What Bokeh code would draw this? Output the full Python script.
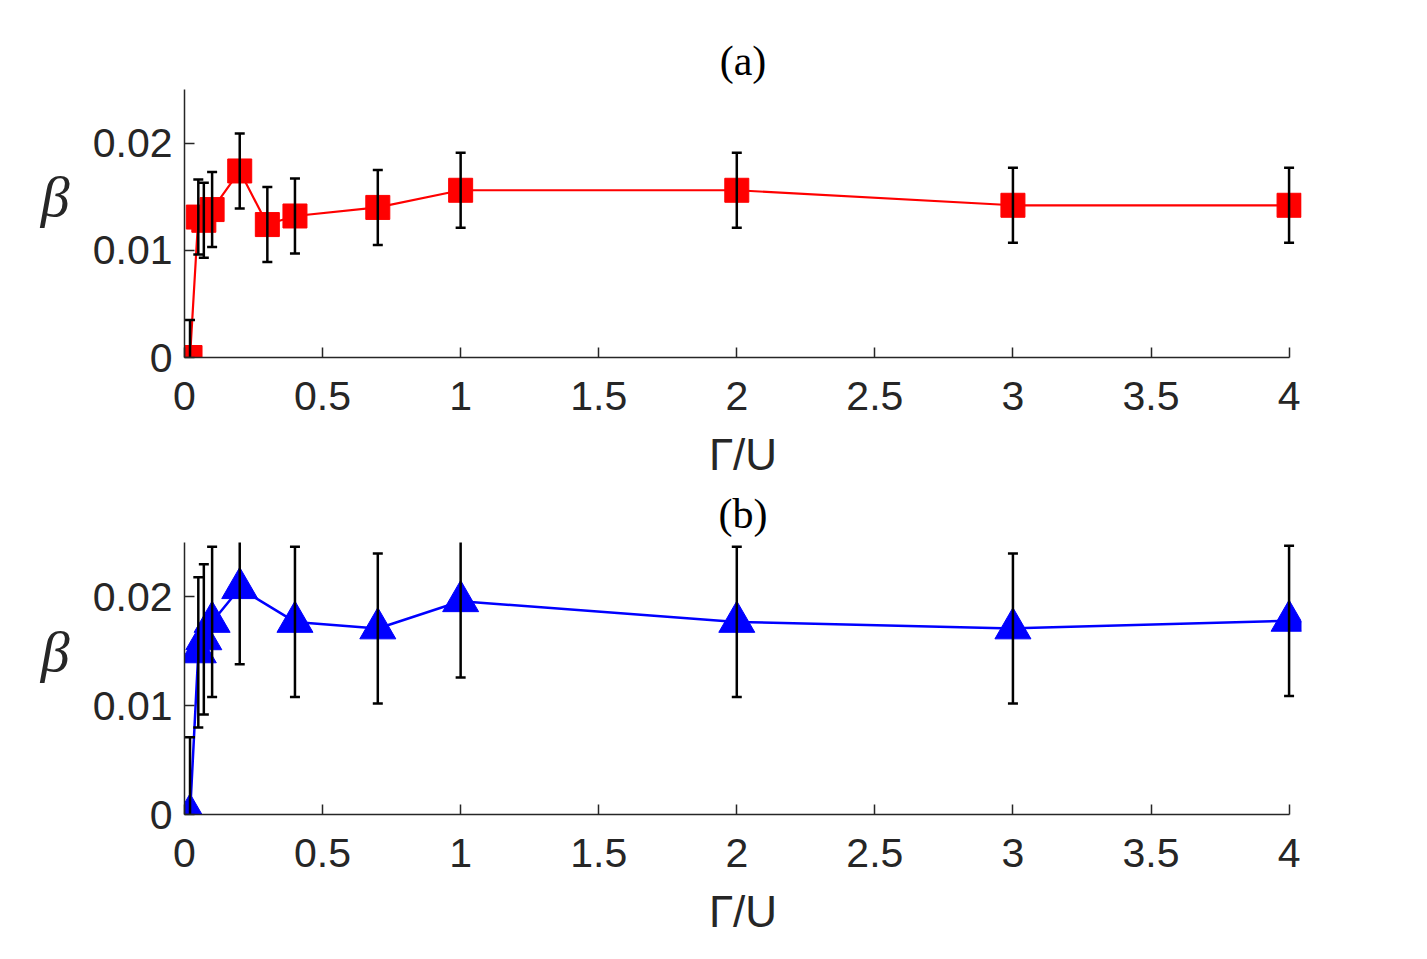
from bokeh.plotting import figure
from bokeh.models import Range1d, FixedTicker, ColumnDataSource
from bokeh.layouts import column
from bokeh.embed import file_html
from bokeh.resources import INLINE

# ---- data ----
gamma_a = [0.02, 0.05, 0.07, 0.1, 0.2, 0.3, 0.4, 0.7, 1, 2, 3, 4]
beta_a = [0.0, 0.0131, 0.0128, 0.0138, 0.0174, 0.0124, 0.0132, 0.0140, 0.0156, 0.0156, 0.0142, 0.0142]
err_a = [0.0035, 0.0035, 0.0035, 0.0035, 0.0035, 0.0035, 0.0035, 0.0035, 0.0035, 0.0035, 0.0035, 0.0035]

gamma_b = [0.02, 0.05, 0.07, 0.1, 0.2, 0.4, 0.7, 1, 2, 3, 4]
beta_b = [0.0, 0.0149, 0.0161, 0.0177, 0.0208, 0.0177, 0.0171, 0.0196, 0.0177, 0.0171, 0.0178]
err_b = [0.0071, 0.0069, 0.0069, 0.0069, 0.0070, 0.0069, 0.0069, 0.0070, 0.0069, 0.0069, 0.0069]

x_ticks = [0, 0.5, 1, 1.5, 2, 2.5, 3, 3.5, 4]
x_tick_labels = ["0", "0.5", "1", "1.5", "2", "2.5", "3", "3.5", "4"]
y_ticks = [0, 0.01, 0.02]
y_tick_labels = ["0", "0.01", "0.02"]
x_limits = (0, 4)
y_limits = (0, 0.025)

AXIS_COLOR = "#262626"


def make_panel(title, xs, ys, errs, color, marker, msize, lw, frame_h, top, bottom):
    p = figure(frame_width=1117, frame_height=frame_h,
               output_backend="svg", toolbar_location=None,
               x_range=Range1d(x_limits[0], x_limits[1] + 0.045),
               y_range=Range1d(y_limits[0], y_limits[1]),
               min_border_left=184, min_border_right=20,
               min_border_top=top, min_border_bottom=bottom,
               background_fill_color="white", border_fill_color="white")
    p.outline_line_color = None
    p.grid.visible = False

    p.title.text = title
    p.title.align = "center"
    p.title.text_font = "Liberation Serif"
    p.title.text_font_size = "42px"
    p.title.text_font_style = "normal"
    p.title.text_color = "black"
    p.title.standoff = 11

    for ax in (p.xaxis[0], p.yaxis[0]):
        ax.axis_line_color = AXIS_COLOR
        ax.axis_line_width = 1.5
        ax.major_tick_line_color = AXIS_COLOR
        ax.major_tick_line_width = 1.5
        ax.major_tick_in = 10
        ax.major_tick_out = 0
        ax.minor_tick_line_color = None
        ax.major_label_text_font = "Liberation Sans"
        ax.major_label_text_font_size = "41px"
        ax.major_label_text_color = AXIS_COLOR

    xa = p.xaxis[0]
    xa.ticker = FixedTicker(ticks=x_ticks)
    xa.major_label_overrides = {t: l for t, l in zip(x_ticks, x_tick_labels)}
    xa.bounds = x_limits
    xa.major_label_standoff = 24
    xa.axis_label = "Γ/U"
    xa.axis_label_text_font = "Liberation Sans"
    xa.axis_label_text_font_size = "44px"
    xa.axis_label_text_font_style = "normal"
    xa.axis_label_text_color = AXIS_COLOR
    xa.axis_label_standoff = 17

    ya = p.yaxis[0]
    ya.ticker = FixedTicker(ticks=y_ticks)
    ya.major_label_overrides = {t: l for t, l in zip(y_ticks, y_tick_labels)}
    ya.bounds = y_limits
    ya.major_label_standoff = 12
    ya.axis_label = "β\n "
    ya.axis_label_text_font = "Liberation Serif"
    ya.axis_label_text_font_size = "58px"
    ya.axis_label_text_font_style = "italic"
    ya.axis_label_text_color = AXIS_COLOR
    ya.axis_label_text_line_height = 0.82
    ya.axis_label_standoff = 20
    ya.axis_label_orientation = "horizontal"

    src = ColumnDataSource(dict(
        x=xs, y=ys,
        lo=[v - e for v, e in zip(ys, errs)],
        hi=[v + e for v, e in zip(ys, errs)],
    ))
    renderers = []
    renderers.append(p.scatter("x", "y", source=src, marker=marker, size=msize,
                               fill_color=color, line_color=color))
    renderers.append(p.line("x", "y", source=src, line_color=color, line_width=lw))
    renderers.append(p.segment(x0="x", y0="lo", x1="x", y1="hi", source=src,
                               line_color="black", line_width=2.5))
    renderers.append(p.scatter("x", "hi", source=src, marker="dash", size=10,
                               line_color="black", line_width=2.5))
    renderers.append(p.scatter("x", "lo", source=src, marker="dash", size=10,
                               line_color="black", line_width=2.5))
    # markers (and the line) in the reference are not clipped at the axes
    for r in renderers[:2]:
        if "clip" in r.properties():
            r.clip = False
    return p


p1 = make_panel("(a)", gamma_a, beta_a, err_a, "#ff0000", "square", 24, 2.2,
                268, 89, 126)
p2 = make_panel("(b)", gamma_b, beta_b, err_b, "#0000ff", "triangle", 36, 2.5,
                272, 59, 125)

layout = column(p1, p2, spacing=0)
open("out.html", "w").write(file_html(layout, INLINE))
